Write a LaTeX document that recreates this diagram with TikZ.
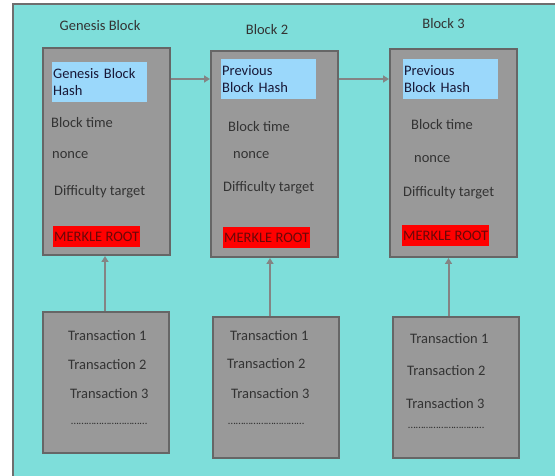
\documentclass[tikz,border=0pt]{standalone}
\usepackage{fontspec}
\setmainfont{Carlito}
\usetikzlibrary{arrows.meta}
\definecolor{bgcyan}{HTML}{7EDEDA}
\definecolor{boxgray}{HTML}{999999}
\definecolor{boxborder}{HTML}{666666}
\definecolor{hashblue}{HTML}{9BD8FB}
\definecolor{merkred}{HTML}{FF0000}
\definecolor{merktext}{HTML}{6A0808}
\definecolor{txtgray}{HTML}{333333}
\definecolor{arrgray}{HTML}{848484}
\definecolor{framegray}{HTML}{6E6E6E}
\tikzset{
  fnt/.style={font=\fontsize{14.5}{16.5}\selectfont},
  blockbox/.style={draw=boxborder, fill=boxgray, line width=2pt, anchor=north west, minimum width=127pt, minimum height=207pt, inner sep=0pt},
  txbox/.style={draw=boxborder, fill=boxgray, line width=2pt, anchor=north west, minimum width=126pt, minimum height=141pt, inner sep=0pt},
  hashbox/.style={fnt, fill=hashblue, anchor=north west, minimum width=95pt, minimum height=40pt, text width=93pt, inner xsep=1pt, inner ysep=0pt, align=left, text=txtgray!80!blue!60!black},
  merkbox/.style={fnt, fill=merkred, anchor=north west, minimum width=87pt, minimum height=21pt, inner sep=0pt, text=merktext},
  lbl/.style={fnt, anchor=base west, inner sep=0pt, text=txtgray},
  dotlbl/.style={font=\fontsize{11}{12}\selectfont, anchor=base west, inner sep=0pt, text=txtgray},
  ttl/.style={fnt, anchor=base, inner sep=0pt, text=txtgray},
  arr/.style={draw=arrgray, line width=2pt, -{Triangle[length=6pt,width=7pt]}},
}
\begin{document}
\begin{tikzpicture}[x=1pt,y=-1pt]
\useasboundingbox[fill=white] (0,0) rectangle (555,476);
% outer frame
\fill[bgcyan] (13,4) rectangle (555,476);
\draw[framegray, line width=1.5pt] (13,476) -- (13,4) -- (555,4);

% titles
\node[ttl] (t1) at (100,31) {Genesis Block};
\node[ttl] (t2) at (267,35) {Block 2};
\node[ttl] (t3) at (443.5,29) {Block 3};

% blocks
\node[blockbox] (b1) at (42,47) {};
\node[blockbox, minimum height=206pt] (b2) at (210,50) {};
\node[blockbox, minimum height=208pt] (b3) at (389,48) {};

% hash boxes
\node[hashbox] (h1) at (52,62) {Genesis Block\\Hash};
\node[hashbox] (h2) at (221,59) {Previous\\Block Hash};
\node[hashbox] (h3) at (403,59) {Previous\\Block Hash};

% fields
\node[lbl] (bt1) at (51,128) {Block time};
\node[lbl] (n1) at (52,159) {nonce};
\node[lbl] (d1) at (54,196) {Difficulty target};
\node[lbl] (bt2) at (228,132) {Block time};
\node[lbl] (n2) at (233,159) {nonce};
\node[lbl] (d2) at (223,192) {Difficulty target};
\node[lbl] (bt3) at (411,130) {Block time};
\node[lbl] (n3) at (414,163) {nonce};
\node[lbl] (d3) at (403,197) {Difficulty target};

% merkle roots
\node[merkbox] (m1) at (53,226) {MERKLE ROOT};
\node[merkbox] (m2) at (223,227) {MERKLE ROOT};
\node[merkbox] (m3) at (402,225) {MERKLE ROOT};

% transaction boxes
\node[txbox] (x1) at (42,311) {};
\node[txbox] (x2) at (212,316) {};
\node[txbox] (x3) at (392,316) {};

\node[lbl] (x1a) at (68,340) {Transaction 1};
\node[lbl] (x1b) at (68,369) {Transaction 2};
\node[lbl] (x1c) at (70,398) {Transaction 3};
\node[dotlbl] (x1d) at (71,424) {…………………………};
\node[lbl] (x2a) at (230,340) {Transaction 1};
\node[lbl] (x2b) at (227,368) {Transaction 2};
\node[lbl] (x2c) at (231,398) {Transaction 3};
\node[dotlbl] (x2d) at (228,424) {…………………………};
\node[lbl] (x3a) at (410,343) {Transaction 1};
\node[lbl] (x3b) at (407,375) {Transaction 2};
\node[lbl] (x3c) at (406,408) {Transaction 3};
\node[dotlbl] (x3d) at (408,428) {…………………………};

% horizontal arrows
\coordinate (hy) at (0,79);
\draw[arr] (b1.east |- hy) -- (b2.west |- hy);
\draw[arr] (b2.east |- hy) -- (b3.west |- hy);

% vertical arrows
\coordinate (v1) at (105,0);
\coordinate (v2) at (270,0);
\coordinate (v3) at (448.5,0);
\draw[arr] (x1.north -| v1) -- (b1.south -| v1);
\draw[arr] (x2.north -| v2) -- (b2.south -| v2);
\draw[arr] (x3.north -| v3) -- (b3.south -| v3);
\end{tikzpicture}
\end{document}
